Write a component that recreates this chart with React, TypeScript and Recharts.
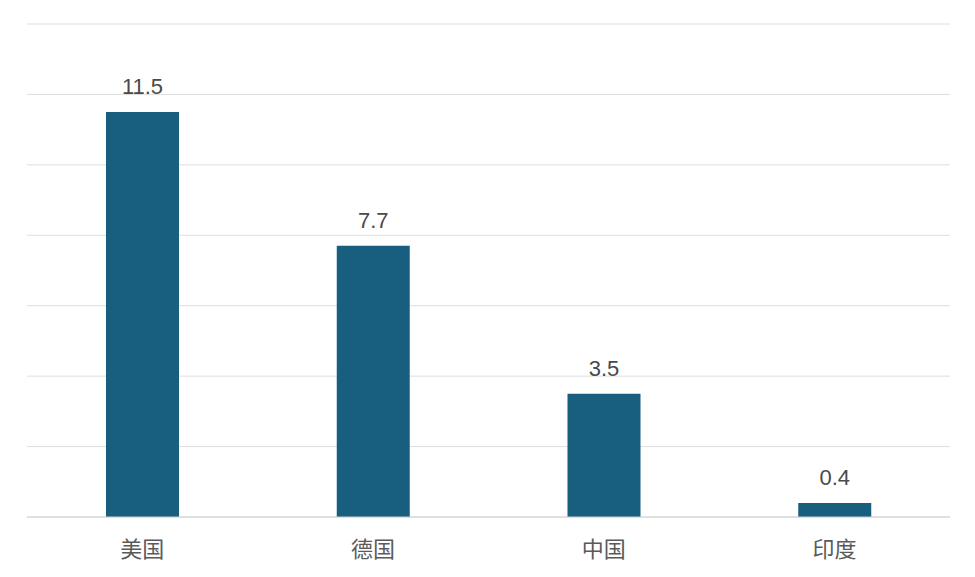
import React from 'react';
import { BarChart, Bar, XAxis, YAxis, CartesianGrid, LabelList } from 'recharts';

// 国家与数值
const countries = ['美国', '德国', '中国', '印度'];
const values = [11.5, 7.7, 3.5, 0.4];
const yTicks = [0, 2, 4, 6, 8, 10, 12, 14];

const data = countries.map((name, i) => ({ name, value: values[i] }));

const App: React.FC = () => {
  return (
    <div style={{ position: 'absolute', left: 0, top: 0, background: '#fff' }}>
      <BarChart
        width={975}
        height={577}
        data={data}
        margin={{ top: 24, right: 25, left: 27, bottom: 20 }}
        style={{ fontFamily: '"Liberation Sans", "Noto Sans CJK SC", sans-serif' }}
      >
        <CartesianGrid vertical={false} stroke="#dedede" />
        <XAxis
          dataKey="name"
          height={40}
          axisLine={{ stroke: '#d0d0d0' }}
          tickLine={false}
          tickMargin={18}
          tick={{ fill: '#5a5a5a', fontSize: 22, fontFamily: '"Noto Sans CJK SC", sans-serif' }}
        />
        <YAxis hide domain={[0, 14]} ticks={yTicks} />
        <Bar dataKey="value" fill="#175e7f" barSize={73} isAnimationActive={false}>
          <LabelList dataKey="value" position="top" offset={18} fill="#4a4a4a" fontSize={22} />
        </Bar>
      </BarChart>
    </div>
  );
};

export default App;
